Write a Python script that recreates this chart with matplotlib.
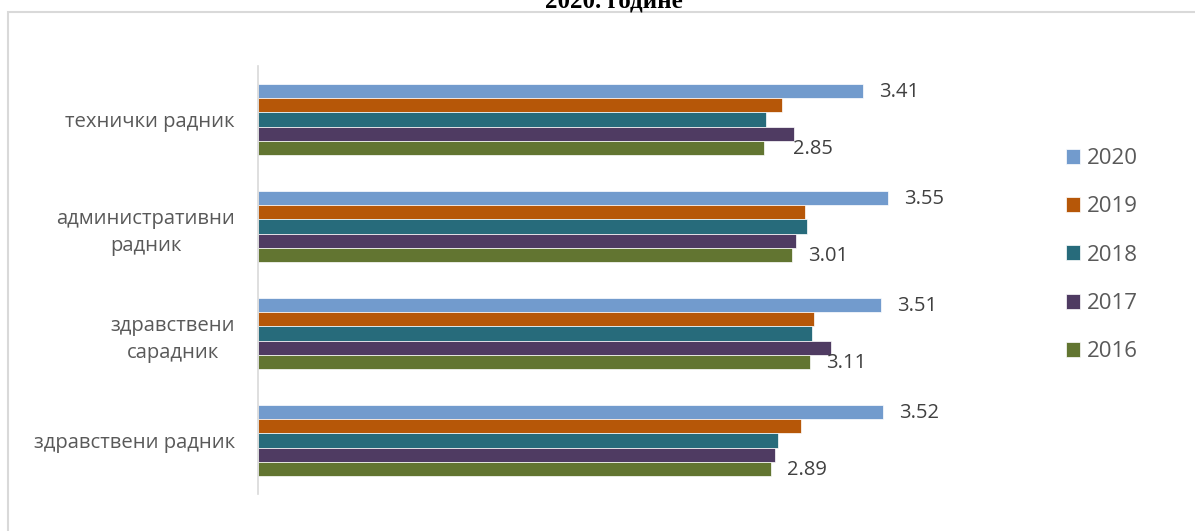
import numpy as np
import matplotlib
matplotlib.use("Agg")
import matplotlib.pyplot as plt
from matplotlib.patches import Rectangle

plt.rcParams['font.family'] = ['Open Sans', 'DejaVu Sans']

# categories, bottom to top as drawn
categories = ["здравствени радник", "здравствени\nсарадник",
              "административни\nрадник", "технички радник"]
years = ["2020", "2019", "2018", "2017", "2016"]

v2020 = [3.52, 3.51, 3.55, 3.41]
v2019 = [3.06, 3.13, 3.08, 2.95]
v2018 = [2.93, 3.12, 3.09, 2.86]
v2017 = [2.91, 3.23, 3.03, 3.02]
v2016 = [2.89, 3.11, 3.01, 2.85]

title = "2020. године"

series = [v2020, v2019, v2018, v2017, v2016]
colors = ["#729bcd", "#b65708", "#276b7b", "#4f3b62", "#627531"]

fig = plt.figure(figsize=(11.95, 5.31), dpi=100)
ax = fig.add_axes([0.2163, 0.0697, 0.668, 0.806])

y = np.arange(len(categories))
h = 0.132
for i, (vals, col, yr) in enumerate(zip(series, colors, years)):
    off = (2 - i) * h
    ax.barh(y + off, vals, height=h, color=col, edgecolor="white",
            linewidth=0.5, label=yr)

# value labels only on 2020 and 2016 bars
for vals, off in [(v2020, 2 * h), (v2016, -2 * h)]:
    for j, v in enumerate(vals):
        dx = 29 if (off < 0 and j == 3) else 16
        ax.annotate(f"{v:.2f}", (v, y[j] + off), xytext=(dx, -1),
                    textcoords="offset pixels", va="center", ha="left",
                    fontsize=14.5, color="#404040")

ax.set_xlim(0, 4.5)
ax.set_ylim(-0.5, 3.5)
ax.set_yticks(y)
ax.set_yticklabels(categories, fontsize=14.6, color="#595959",
                   multialignment="center", linespacing=1.48)
ax.tick_params(axis="y", length=0, pad=17)
ax.set_xticks([])
for s in ["top", "right", "bottom"]:
    ax.spines[s].set_visible(False)
ax.spines["left"].set_color("#d9d9d9")
ax.spines["left"].set_linewidth(1.2)

ax.legend(loc="center left", bbox_to_anchor=(0.986, 0.558), frameon=False,
          fontsize=16, labelcolor="#595959", handlelength=0.65,
          handleheight=0.65, handletextpad=0.3, labelspacing=1.23)

fig.patches.append(Rectangle((8 / 1195, -0.05), 1.1, 1 - 12 / 531 + 0.05,
                             transform=fig.transFigure, fill=False,
                             edgecolor="#d9d9d9", linewidth=1.5))
fig.text(614 / 1195, 1 - 7 / 531, title, ha="center", va="baseline",
         fontsize=18, fontweight="bold", family="Liberation Serif")

fig.savefig("out.png", dpi=100)
